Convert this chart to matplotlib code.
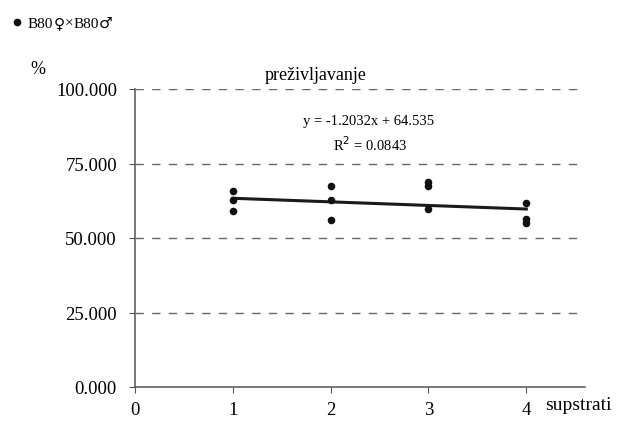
import numpy as np
from matplotlib import pyplot as plt
from matplotlib.lines import Line2D

# survival (%) per substrate, three replicates each
supstrati = [1, 1, 1, 2, 2, 2, 3, 3, 3, 4, 4, 4]
prezivljavanje = [65.9, 62.9, 59.2, 67.6, 62.9, 56.0, 68.7, 67.6, 59.7, 61.7, 56.4, 55.0]

# linear trend as reported on the chart
slope = -1.2032
intercept = 64.535
r2 = 0.0843

y_ticks = [0, 25, 50, 75, 100]
x_ticks = [0, 1, 2, 3, 4]

plt.rcParams['font.family'] = ['Liberation Serif', 'DejaVu Serif']

W, H = 620, 427
fig = plt.figure(figsize=(W / 100, H / 100), dpi=100)
ax = fig.add_axes([135 / W, 1 - 388 / H, 450 / W, 298 / H])

for v in y_ticks[1:]:
    ax.axhline(v, color='#666666', lw=1.0, ls=(0, (6, 6)), zorder=1)

ax.scatter(supstrati, prezivljavanje, s=20, color='#111111', zorder=3)

xs = np.array([1, 4])
ax.plot(xs, slope * xs + intercept, color='#1a1a1a', lw=2.2, zorder=2)

ax.set_xlim(0, 4.6)
ax.set_ylim(0, 100)
ax.set_xticks(x_ticks)
ax.set_yticks(y_ticks)
ax.set_yticklabels([f'{v:.3f}' for v in y_ticks])
ax.tick_params(axis='y', direction='out', length=4, pad=9, labelsize=13.5, color='#555555')
ax.tick_params(axis='x', direction='out', length=4, pad=6, labelsize=13.5, color='#555555')

for side in ('top', 'right'):
    ax.spines[side].set_visible(False)
for side in ('left', 'bottom'):
    ax.spines[side].set_color('#555555')
    ax.spines[side].set_linewidth(1.1)

fig.text(30 / W, 1 - 70 / H, '%', fontsize=13, va='center')
fig.text(316 / W, 1 - 75 / H, 'preživljavanje', fontsize=13, ha='center', va='center')
fig.text(369 / W, 1 - 122 / H, f'y = {slope}x + {intercept}', fontsize=10.5, ha='center', va='center')
fig.text(370 / W, 1 - 145 / H, f'R$^2$ = {r2}', fontsize=10.5, ha='center', va='center')
fig.text(545 / W, 1 - 406 / H, 'supstrati', fontsize=14, va='center')

# legend entry in the top-left corner, sex symbols drawn in DejaVu
fig.add_artist(Line2D([17 / W], [1 - 23 / H], marker='o', ms=4.5, color='#111111',
                      transform=fig.transFigure))
parts = [('B80', 'Liberation Serif'), ('♀', 'DejaVu Sans'), ('×', 'Liberation Serif'),
         ('B80', 'Liberation Serif'), ('♂', 'DejaVu Sans')]
x = 28
renderer = fig.canvas.get_renderer()
for txt, fam in parts:
    t = fig.text(x / W, 1 - 28 / H, txt, fontsize=11, family=fam, va='baseline')
    x = t.get_window_extent(renderer).x1

fig.savefig('out.png', dpi=100)
